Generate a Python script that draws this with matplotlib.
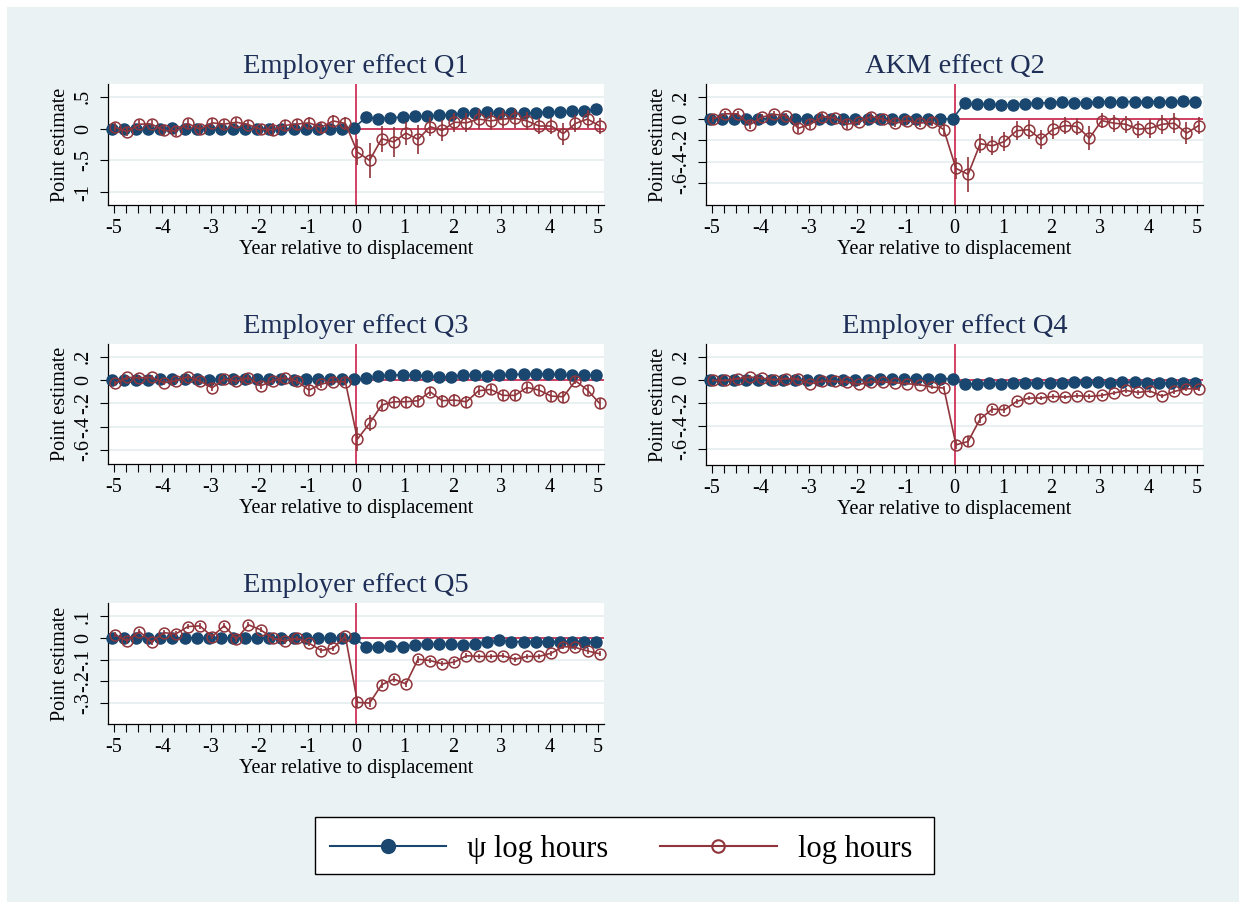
import numpy as np
import matplotlib
matplotlib.use("Agg")
import matplotlib.pyplot as plt
from matplotlib.lines import Line2D
from matplotlib.patches import Rectangle

plt.rcParams['font.family'] = ['Liberation Serif', 'DejaVu Serif']

# --- data: quarterly event time, -5 .. 5 years ---
years = [-5, -4.75, -4.5, -4.25, -4, -3.75, -3.5, -3.25, -3, -2.75, -2.5, -2.25,
         -2, -1.75, -1.5, -1.25, -1, -0.75, -0.5, -0.25, 0, 0.25, 0.5, 0.75, 1,
         1.25, 1.5, 1.75, 2, 2.25, 2.5, 2.75, 3, 3.25, 3.5, 3.75, 4, 4.25, 4.5,
         4.75, 5]

titles = ["Employer effect Q1", "AKM effect Q2", "Employer effect Q3",
          "Employer effect Q4", "Employer effect Q5"]

psi_q1 = [0.00, 0.00, 0.00, 0.00, 0.00, 0.01, 0.00, 0.00, 0.00, 0.00, 0.00, 0.00,
          0.00, 0.00, 0.00, 0.00, 0.00, 0.00, 0.00, 0.00, 0.01, 0.18, 0.15, 0.17,
          0.18, 0.19, 0.19, 0.21, 0.22, 0.24, 0.25, 0.26, 0.24, 0.24, 0.24, 0.25,
          0.26, 0.26, 0.27, 0.28, 0.30]
hrs_q1 = [0.02, -0.05, 0.07, 0.07, -0.03, -0.04, 0.08, -0.01, 0.09, 0.07, 0.10, 0.06,
          -0.01, -0.02, 0.05, 0.07, 0.09, 0.02, 0.12, 0.08, -0.37, -0.50, -0.16, -0.21,
          -0.07, -0.17, 0.03, -0.03, 0.10, 0.09, 0.15, 0.12, 0.15, 0.16, 0.12, 0.04,
          0.04, -0.08, 0.08, 0.15, 0.04]
ci_q1 = [0.06, 0.06, 0.06, 0.06, 0.07, 0.07, 0.07, 0.08, 0.07, 0.07, 0.07, 0.07,
         0.08, 0.10, 0.09, 0.08, 0.09, 0.09, 0.10, 0.10, 0.20, 0.27, 0.20, 0.24,
         0.18, 0.23, 0.15, 0.17, 0.15, 0.15, 0.15, 0.14, 0.14, 0.15, 0.14, 0.13,
         0.13, 0.17, 0.14, 0.14, 0.13]

psi_q2 = [0.00, 0.00, 0.00, 0.00, 0.00, 0.00, 0.00, 0.00, 0.00, 0.00, 0.00, 0.00,
          0.00, 0.00, 0.00, 0.00, 0.00, 0.00, 0.00, 0.00, 0.00, 0.146, 0.136, 0.14,
          0.127, 0.133, 0.14, 0.146, 0.152, 0.155, 0.149, 0.152, 0.158, 0.161, 0.161,
          0.161, 0.161, 0.161, 0.161, 0.164, 0.161]
hrs_q2 = [0.0, 0.047, 0.047, -0.056, 0.016, 0.043, 0.028, -0.087, -0.05, 0.022, 0.009,
          -0.05, -0.031, 0.022, -0.003, -0.04, -0.016, -0.04, -0.025, -0.10, -0.46,
          -0.515, -0.23, -0.25, -0.21, -0.11, -0.10, -0.19, -0.096, -0.062, -0.071,
          -0.18, -0.016, -0.04, -0.05, -0.096, -0.087, -0.05, -0.04, -0.133, -0.062]
ci_q2 = [0.03, 0.03, 0.03, 0.04, 0.03, 0.03, 0.03, 0.04, 0.04, 0.03, 0.03, 0.04,
         0.03, 0.03, 0.03, 0.04, 0.04, 0.04, 0.04, 0.06, 0.10, 0.16, 0.09, 0.09,
         0.09, 0.09, 0.09, 0.09, 0.09, 0.08, 0.08, 0.11, 0.07, 0.08, 0.08, 0.08,
         0.09, 0.09, 0.09, 0.10, 0.08]

psi_q3 = [0.005, 0.0, 0.0, 0.0, 0.01, 0.01, 0.01, 0.01, 0.005, 0.01, 0.01, 0.01,
          0.01, 0.01, 0.01, 0.005, 0.01, 0.01, 0.01, 0.01, 0.01, 0.014, 0.034, 0.043,
          0.043, 0.043, 0.034, 0.023, 0.029, 0.043, 0.043, 0.037, 0.043, 0.049, 0.049,
          0.054, 0.051, 0.049, 0.043, 0.043, 0.043]
hrs_q3 = [-0.029, 0.023, 0.02, 0.023, -0.023, -0.006, 0.029, -0.009, -0.066, 0.009,
          -0.009, 0.02, -0.049, -0.006, 0.02, -0.009, -0.086, -0.034, -0.014, -0.014,
          -0.506, -0.371, -0.214, -0.186, -0.186, -0.177, -0.10, -0.177, -0.171,
          -0.186, -0.091, -0.08, -0.131, -0.131, -0.063, -0.086, -0.137, -0.143,
          -0.006, -0.086, -0.20]
ci_q3 = [0.025, 0.02, 0.02, 0.02, 0.02, 0.025, 0.025, 0.025, 0.03, 0.025, 0.025, 0.025,
         0.03, 0.025, 0.025, 0.025, 0.04, 0.03, 0.03, 0.03, 0.10, 0.07, 0.05, 0.05,
         0.05, 0.05, 0.04, 0.05, 0.05, 0.05, 0.04, 0.04, 0.05, 0.05, 0.04, 0.04,
         0.05, 0.05, 0.03, 0.04, 0.05]

psi_q4 = [-0.005, -0.005, -0.005, -0.005, -0.005, -0.003, -0.003, -0.003, -0.003, 0.0,
          0.0, 0.0, 0.0, 0.0, 0.003, 0.003, 0.006, 0.006, 0.009, 0.009, 0.009, -0.04,
          -0.035, -0.03, -0.035, -0.026, -0.026, -0.026, -0.026, -0.026, -0.02, -0.02,
          -0.02, -0.026, -0.02, -0.02, -0.026, -0.026, -0.03, -0.026, -0.026]
hrs_q4 = [-0.006, -0.006, 0.009, 0.023, 0.014, 0.0, 0.009, 0.006, -0.035, -0.012, -0.014,
          -0.02, -0.041, -0.02, -0.02, -0.026, -0.035, -0.043, -0.064, -0.072, -0.565,
          -0.536, -0.339, -0.255, -0.261, -0.188, -0.159, -0.159, -0.145, -0.151, -0.139,
          -0.145, -0.136, -0.116, -0.093, -0.11, -0.099, -0.142, -0.101, -0.078, -0.081]
ci_q4 = [0.015, 0.015, 0.015, 0.015, 0.015, 0.015, 0.015, 0.015, 0.015, 0.015, 0.015,
         0.015, 0.015, 0.015, 0.015, 0.015, 0.015, 0.015, 0.02, 0.02, 0.04, 0.05, 0.04,
         0.03, 0.03, 0.025, 0.02, 0.02, 0.02, 0.02, 0.02, 0.02, 0.02, 0.02, 0.02, 0.02,
         0.02, 0.02, 0.02, 0.02, 0.02]

psi_q5 = [0.0, 0.0, 0.0, 0.0, 0.0, 0.0, 0.0, 0.0, 0.0, 0.0, 0.0, 0.0, 0.0, 0.0, 0.0,
          0.0, 0.0, 0.0, 0.0, 0.0, 0.0, -0.04, -0.04, -0.038, -0.04, -0.032, -0.029,
          -0.029, -0.029, -0.032, -0.029, -0.02, -0.012, -0.017, -0.017, -0.017,
          -0.017, -0.017, -0.017, -0.017, -0.021]
hrs_q5 = [0.014, -0.014, 0.029, -0.02, 0.024, 0.018, 0.052, 0.055, 0.006, 0.056, -0.005,
          0.06, 0.037, -0.002, -0.014, -0.002, -0.024, -0.058, -0.047, 0.009, -0.296,
          -0.299, -0.215, -0.189, -0.211, -0.098, -0.104, -0.119, -0.111, -0.082,
          -0.085, -0.085, -0.082, -0.098, -0.085, -0.085, -0.07, -0.04, -0.044, -0.06,
          -0.073]
ci_q5 = [0.012, 0.012, 0.012, 0.012, 0.012, 0.012, 0.012, 0.012, 0.012, 0.012, 0.012,
         0.012, 0.012, 0.012, 0.012, 0.012, 0.012, 0.012, 0.012, 0.012, 0.025, 0.02,
         0.015, 0.015, 0.015, 0.015, 0.012, 0.012, 0.012, 0.012, 0.012, 0.012, 0.012,
         0.012, 0.012, 0.012, 0.012, 0.012, 0.012, 0.012, 0.012]

ytick_vals = [[-1, -0.5, 0, 0.5], [-0.6, -0.4, -0.2, 0, 0.2], [-0.6, -0.4, -0.2, 0, 0.2],
              [-0.6, -0.4, -0.2, 0, 0.2], [-0.3, -0.2, -0.1, 0, 0.1]]
ytick_labs = [["-1", "-.5", "0", ".5"], ["-.6", "-.4", "-.2", "0", ".2"],
              ["-.6", "-.4", "-.2", "0", ".2"], ["-.6", "-.4", "-.2", "0", ".2"],
              ["-.3", "-.2", "-.1", "0", ".1"]]
ylims = [(-1.2, 0.7), (-0.80, 0.324), (-0.72, 0.31), (-0.74, 0.31), (-0.395, 0.16)]
xtick_major = [-5, -4, -3, -2, -1, 0, 1, 2, 3, 4, 5]

psi_all = [psi_q1, psi_q2, psi_q3, psi_q4, psi_q5]
hrs_all = [hrs_q1, hrs_q2, hrs_q3, hrs_q4, hrs_q5]
ci_all = [ci_q1, ci_q2, ci_q3, ci_q4, ci_q5]

# --- styling ---
BG = '#eaf2f3'
NAVY = '#1a476f'
MAROON = '#90353b'
REF = '#c8103a'
TITLE_C = '#1e2e57'

W, H = 1239, 902
fig = plt.figure(figsize=(W / 100, H / 100), dpi=100)
fig.patch.set_facecolor('white')
fig.add_artist(Rectangle((7 / W, 0), 1, (H - 7) / H, transform=fig.transFigure,
                         facecolor=BG, edgecolor='none', zorder=-10))

# pixel boxes (left, top, right, bottom)
boxes = [(108, 84, 604, 205), (706, 84, 1203, 205),
         (108, 344, 604, 464), (706, 344, 1203, 465),
         (108, 603, 604, 724)]

x = np.array(years)
for i in range(5):
    l, t, r, b = boxes[i]
    ax = fig.add_axes([l / W, (H - b) / H, (r - l) / W, (b - t) / H])
    ax.set_facecolor('white')
    ax.set_xlim(-5.12, 5.12)
    ax.set_ylim(*ylims[i])

    for s in ['top', 'right']:
        ax.spines[s].set_visible(False)
    for s in ['left', 'bottom']:
        ax.spines[s].set_linewidth(0.9)
        ax.spines[s].set_color('black')

    ax.set_yticks(ytick_vals[i])
    ax.set_yticklabels(ytick_labs[i], rotation=90, va='center')
    ax.set_xticks(xtick_major)
    ax.set_xticklabels([str(v) for v in xtick_major])
    ax.set_xticks(years, minor=True)
    ax.tick_params(axis='both', which='both', length=5.8, width=0.8, direction='out',
                   labelsize=14.5, color='black')
    ax.tick_params(axis='x', which='both', pad=4.5)
    ax.tick_params(axis='y', which='both', pad=5)
    ax.grid(axis='y', color='#e4edef', linewidth=1.2, zorder=0)
    ax.set_axisbelow(True)

    # reference lines
    ax.axvline(0, color=REF, lw=1.1, zorder=1.5)
    ax.hlines(0, 0, ax.get_xlim()[1], color=REF, lw=1.1, zorder=1.5)

    psi = np.array(psi_all[i])
    hrs = np.array(hrs_all[i])
    ci = np.array(ci_all[i])
    ax.plot(x - 0.04, psi, color=NAVY, lw=1.2, marker='o', ms=8,
            markerfacecolor=NAVY, markeredgecolor=NAVY, zorder=3, clip_on=False)
    ax.vlines(x + 0.03, hrs - ci, hrs + ci, color=MAROON, lw=1.2, zorder=4)
    ax.plot(x + 0.03, hrs, color=MAROON, lw=1.2, marker='o', ms=7.8,
            markerfacecolor='none', markeredgecolor=MAROON, markeredgewidth=1.1,
            zorder=4, clip_on=False)

    ax.set_title(titles[i], fontsize=20.5, color=TITLE_C, pad=8)
    ax.set_xlabel('Year relative to displacement', fontsize=14.5, labelpad=1)
    ax.set_ylabel('Point estimate', fontsize=14.5, labelpad=3)

# legend box drawn as its own frame
fig.add_artist(Rectangle((315 / W, 1 - 874 / H), (934 - 315) / W, (874 - 817) / H,
                         transform=fig.transFigure, facecolor='white',
                         edgecolor='black', linewidth=1.0, zorder=5))
handles = [Line2D([], [], color=NAVY, lw=1.5, marker='o', ms=10,
                  markerfacecolor=NAVY, markeredgecolor=NAVY),
           Line2D([], [], color=MAROON, lw=1.5, marker='o', ms=9,
                  markerfacecolor='none', markeredgecolor=MAROON, markeredgewidth=1.5)]
leg = fig.legend(handles, ['\u03c8 log hours', 'log hours'], loc='center',
                 bbox_to_anchor=(621 / W, 1 - 849 / H), ncol=2, fontsize=22,
                 frameon=False, handlelength=3.8, handletextpad=0.7,
                 columnspacing=1.7, borderpad=0.45)
leg.set_zorder(6)

fig.savefig('out.png', dpi=100, facecolor=fig.get_facecolor())
